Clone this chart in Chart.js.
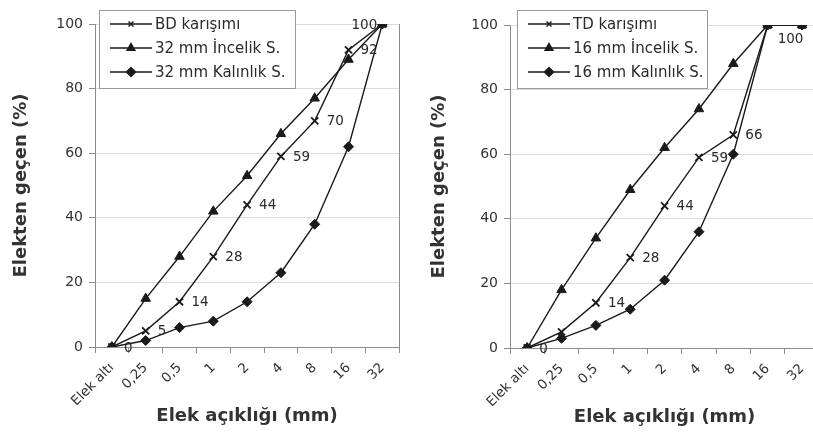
<!DOCTYPE html>
<html>
<head>
<meta charset="utf-8">
<script src="https://cdn.jsdelivr.net/npm/chart.js@4"></script>
<style>
  body { margin: 0; background: #fff; width: 813px; height: 440px; overflow: hidden; position: relative; }
  #left { position: absolute; left: 0; top: 0; }
  #right { position: absolute; left: 406px; top: 0; }
</style>
</head>
<body>
<canvas id="left" width="406" height="440"></canvas>
<canvas id="right" width="420" height="440"></canvas>
<script>
// elek açıklıkları (x ekseni)
const sieveLabels = ['Elek altı', '0,25', '0,5', '1', '2', '4', '8', '16', '32'];

// sol grafik - 32 mm
const bdMix = [0, 5, 14, 28, 44, 59, 70, 92, 100];
const fine32 = [0, 15, 28, 42, 53, 66, 77, 89, 100];
const coarse32 = [0, 2, 6, 8, 14, 23, 38, 62, 100];
const bdLabels = ['0', '5', '14', '28', '44', '59', '70', '92', '100'];

// sag grafik - 16 mm
const tdMix = [0, 5, 14, 28, 44, 59, 66, 100, 100];
const fine16 = [0, 18, 34, 49, 62, 74, 88, 100, 100];
const coarse16 = [0, 3, 7, 12, 21, 36, 60, 100, 100];
const tdLabels = ['0', null, '14', '28', '44', '59', '66', '100', null];

const yTicks = [0, 20, 40, 60, 80, 100];

const fam = "'DejaVu Sans', sans-serif";
Chart.defaults.font.family = fam;
Chart.defaults.color = '#2a2a2a';

const ink = '#1a1a1a';

function series(label, data, style, r) {
  return {
    label: label,
    data: data,
    borderColor: ink,
    backgroundColor: ink,
    borderWidth: 1.4,
    pointStyle: style,
    pointRadius: r,
    pointBorderWidth: style === 'crossRot' ? 1.8 : 1,
    pointBorderColor: ink,
    pointBackgroundColor: ink,
    tension: 0
  };
}

const sievePlugin = {
  id: 'sieve',
  afterDatasetsDraw(chart, args, opts) {
    const ctx = chart.ctx;
    const meta = chart.getDatasetMeta(0);
    ctx.save();
    ctx.font = "13.5px " + fam;
    ctx.fillStyle = '#2a2a2a';
    ctx.textBaseline = 'middle';
    opts.labels.forEach((txt, i) => {
      if (txt === null) return;
      const p = meta.data[i];
      const place = (opts.place && opts.place[i]) || 'right';
      if (place === 'left') {
        ctx.textAlign = 'right';
        ctx.fillText(txt, p.x - 5, p.y + 1);
      } else if (place === 'below') {
        ctx.textAlign = 'left';
        ctx.fillText(txt, p.x + 10, p.y + 14);
      } else {
        ctx.textAlign = 'left';
        ctx.fillText(txt, p.x + 12, p.y + 1);
      }
    });
    ctx.restore();
  },
  afterDraw(chart, args, opts) {
    const ctx = chart.ctx;
    const a = chart.chartArea;
    ctx.save();
    // sag kenar cizgisi
    ctx.strokeStyle = '#8c8c8c';
    ctx.lineWidth = 1;
    ctx.beginPath();
    ctx.moveTo(Math.round(a.right) + 0.5, a.top);
    ctx.lineTo(Math.round(a.right) + 0.5, a.bottom);
    ctx.stroke();

    // lejant kutusu
    const lx = Math.round(a.left + opts.legendX), ly = 10, w = opts.legendW, h = 78;
    ctx.fillStyle = '#fff';
    ctx.fillRect(lx, ly, w, h);
    ctx.strokeStyle = '#9a9a9a';
    ctx.strokeRect(lx + 0.5, ly + 0.5, w, h);
    ctx.font = "15px " + fam;
    ctx.textBaseline = 'middle';
    ctx.textAlign = 'left';
    chart.data.datasets.forEach((ds, i) => {
      const y = ly + 14 + i * 24;
      ctx.strokeStyle = ink;
      ctx.lineWidth = 1.4;
      ctx.beginPath();
      ctx.moveTo(lx + 11, y);
      ctx.lineTo(lx + 53, y);
      ctx.stroke();
      ctx.fillStyle = ink;
      Chart.helpers.drawPoint(ctx, {
        pointStyle: ds.pointStyle,
        radius: ds.pointStyle === 'crossRot' ? 3.5 : 4.5,
        borderWidth: ds.pointBorderWidth,
        rotation: 0
      }, lx + 32, y);
      ctx.fillStyle = '#2a2a2a';
      ctx.fillText(ds.label, lx + 56, y + 1);
    });
    ctx.restore();
  }
};

function makeChart(id, datasets, cfg) {
  new Chart(document.getElementById(id), {
    type: 'line',
    data: { labels: sieveLabels, datasets: datasets },
    plugins: [sievePlugin],
    options: {
      responsive: false,
      animation: false,
      layout: { padding: { top: cfg.top, bottom: cfg.bottom, left: 0, right: cfg.right } },
      plugins: {
        legend: { display: false },
        tooltip: { enabled: false },
        sieve: { labels: cfg.labels, place: cfg.place, legendX: cfg.legendX, legendW: cfg.legendW }
      },
      scales: {
        x: {
          type: 'category',
          offset: true,
          afterFit: s => { s.height = 81; },
          grid: { offset: true, drawOnChartArea: false, tickLength: 6, tickColor: '#8c8c8c' },
          border: { color: '#8c8c8c' },
          ticks: { minRotation: 45, maxRotation: 45, padding: 7, font: { size: 13.5 }, color: '#333' },
          title: {
            display: true,
            text: 'Elek açıklığı (mm)',
            font: { size: 18, weight: 'bold' },
            color: '#333',
            padding: { top: 4, bottom: 1 }
          }
        },
        y: {
          min: 0,
          max: 100,
          afterFit: s => { s.width = cfg.yWidth; },
          afterBuildTicks: s => { s.ticks = yTicks.map(v => ({ value: v })); },
          grid: { color: '#dcdcdc', tickLength: 6, tickColor: '#8c8c8c' },
          border: { color: '#8c8c8c' },
          ticks: { padding: 6, font: { size: 14 }, color: '#333' },
          title: {
            display: true,
            text: 'Elekten geçen (%)',
            font: { size: 18, weight: 'bold' },
            color: '#333',
            padding: { top: cfg.titlePad, bottom: 0 }
          }
        }
      }
    }
  });
}

makeChart('left', [
  series('BD karışımı', bdMix, 'crossRot', 5),
  series('32 mm İncelik S.', fine32, 'triangle', 5.5),
  series('32 mm Kalınlık S.', coarse32, 'rectRot', 5)
], { top: 24, bottom: 12, right: 3, yWidth: 95, titlePad: 11, labels: bdLabels, place: { 8: 'left' }, legendX: 4, legendW: 196 });

makeChart('right', [
  series('TD karışımı', tdMix, 'crossRot', 5),
  series('16 mm İncelik S.', fine16, 'triangle', 5.5),
  series('16 mm Kalınlık S.', coarse16, 'rectRot', 5)
], { top: 25, bottom: 11, right: 6, yWidth: 104, titlePad: 23, labels: tdLabels, place: { 7: 'below' }, legendX: 7, legendW: 190 });
</script>
</body>
</html>
